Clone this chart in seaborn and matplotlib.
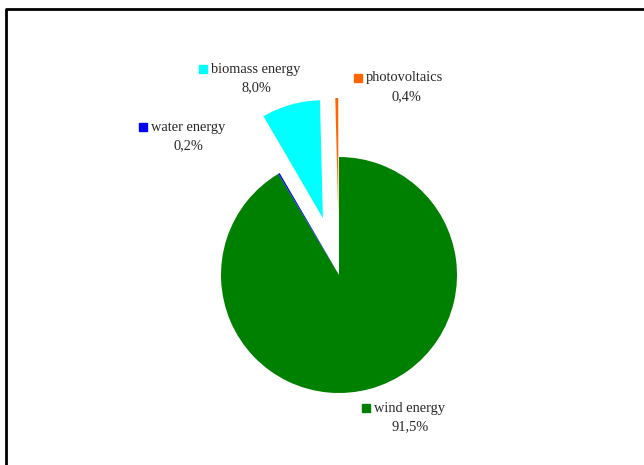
import matplotlib
matplotlib.use('Agg')
import matplotlib.pyplot as plt
from matplotlib.lines import Line2D
import seaborn as sns

sns.set_style('white')
plt.rcParams['font.family'] = ['Liberation Serif', 'DejaVu Serif']

sources = ['wind energy', 'water energy', 'biomass energy', 'photovoltaics']
shares = [91.5, 0.2, 8.0, 0.4]
colors = ['#008000', '#0000FF', '#00FFFF', '#FF6600']
explode = [0, 0, 0.5, 0.5]

W, H = 644, 465
cx, cy, r = 339, 275, 118

fig = plt.figure(figsize=(W / 100, H / 100), dpi=100)
ax = fig.add_axes([0, 0, 1, 1])
ax.pie(shares, colors=colors, explode=explode, startangle=90, counterclock=False,
       wedgeprops={'linewidth': 0})
ax.set_xlim(-cx / r, (W - cx) / r)
ax.set_ylim(-(H - cy) / r, cy / r)
ax.set_aspect('equal')
ax.axis('off')

# label positions in pixels: square marker x, first line y, percent centre x
label_pos = {
    'wind energy': (366, 408, 410),
    'water energy': (143, 127, 188),
    'biomass energy': (203, 69, 256),
    'photovoltaics': (358, 78, 406),
}

def fx(px):
    return px / W

def fy(py):
    return 1 - py / H

for name, val, col in zip(sources, shares, colors):
    sx, ly, pcx = label_pos[name]
    fig.add_artist(Line2D([fx(sx)], [fy(ly)], marker='s', markersize=6.3,
                          color=col, linestyle='none'))
    fig.text(fx(sx + 8), fy(ly), name, ha='left', va='center', fontsize=10.4)
    pct = f'{val:.1f}%'.replace('.', ',')
    fig.text(fx(pcx), fy(ly + 19), pct, ha='center', va='center', fontsize=10.4)

# outer frame (runs off the right and bottom edges)
fig.add_artist(Line2D([fx(6), fx(6), fx(W + 10)], [fy(H + 10), fy(9), fy(9)],
                      color='black', linewidth=2))

fig.savefig('out.png', dpi=100)
